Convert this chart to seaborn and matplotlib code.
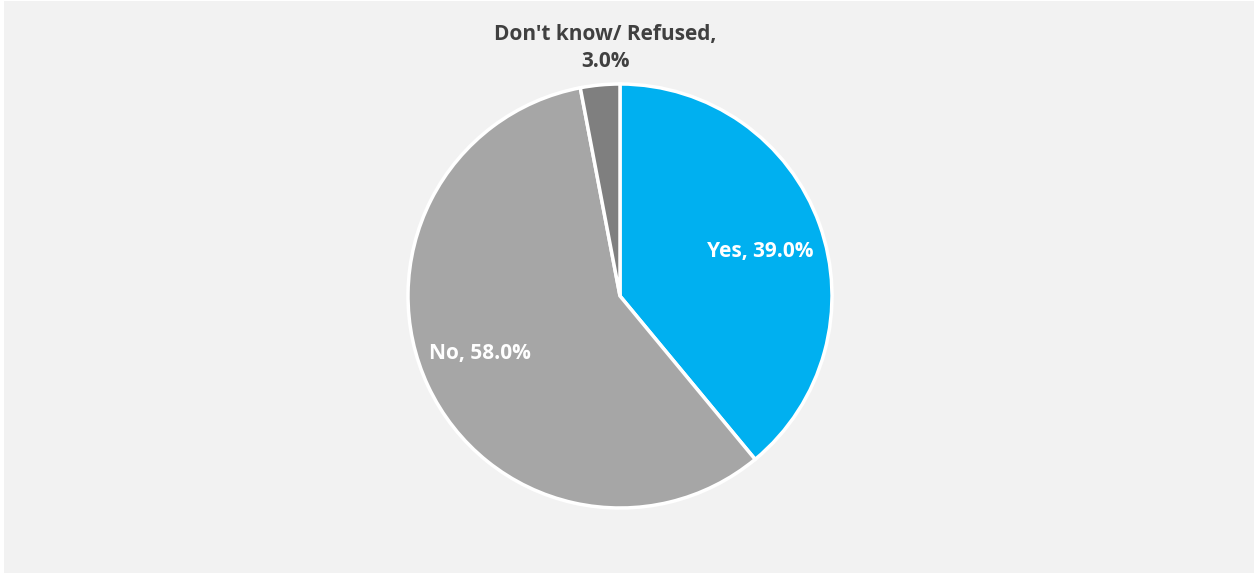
import matplotlib
matplotlib.use("Agg")
import matplotlib.pyplot as plt
import seaborn as sns

categories = ["Yes", "No", "Don't know/ Refused"]
shares = [39.0, 58.0, 3.0]
colors = ["#00B0F0", "#A6A6A6", "#7F7F7F"]

sns.set_theme(style="white")
plt.rcParams["font.family"] = ["Open Sans", "DejaVu Sans"]
palette = sns.color_palette(colors)

W, H = 1254, 573
fig = plt.figure(figsize=(W / 100, H / 100), dpi=100)
fig.patch.set_facecolor("white")
# light gray chart area
fig.add_artist(plt.Rectangle((4 / W, 0), 1 - 4 / W, 1 - 1 / H,
                             transform=fig.transFigure, facecolor="#F2F2F2",
                             edgecolor="none", zorder=0))

cx, cy, r = 620, H - 296, 212
ax = fig.add_axes([(cx - r) / W, (cy - r) / H, 2 * r / W, 2 * r / H])
ax.set_facecolor("none")

wedges, _ = ax.pie(shares, colors=palette, startangle=90, counterclock=False,
                   radius=1.0,
                   wedgeprops=dict(edgecolor="white", linewidth=2.5))
ax.set_xlim(-1, 1)
ax.set_ylim(-1, 1)
ax.set_aspect("equal")
ax.axis("off")

label_pos = [(0.66, 0.21), (-0.66, -0.27), (-0.07, 1.17)]
label_col = ["white", "white", "#404040"]
for cat, val, (lx, ly), col in zip(categories, shares, label_pos, label_col):
    txt = f"{cat}, {val:.1f}%" if cat != "Don't know/ Refused" else f"{cat},\n{val:.1f}%"
    ax.text(lx, ly, txt, ha="center", va="center", color=col,
            fontsize=15, fontweight="bold", linespacing=1.43, clip_on=False)

fig.savefig("out.png", dpi=100, facecolor=fig.get_facecolor())
